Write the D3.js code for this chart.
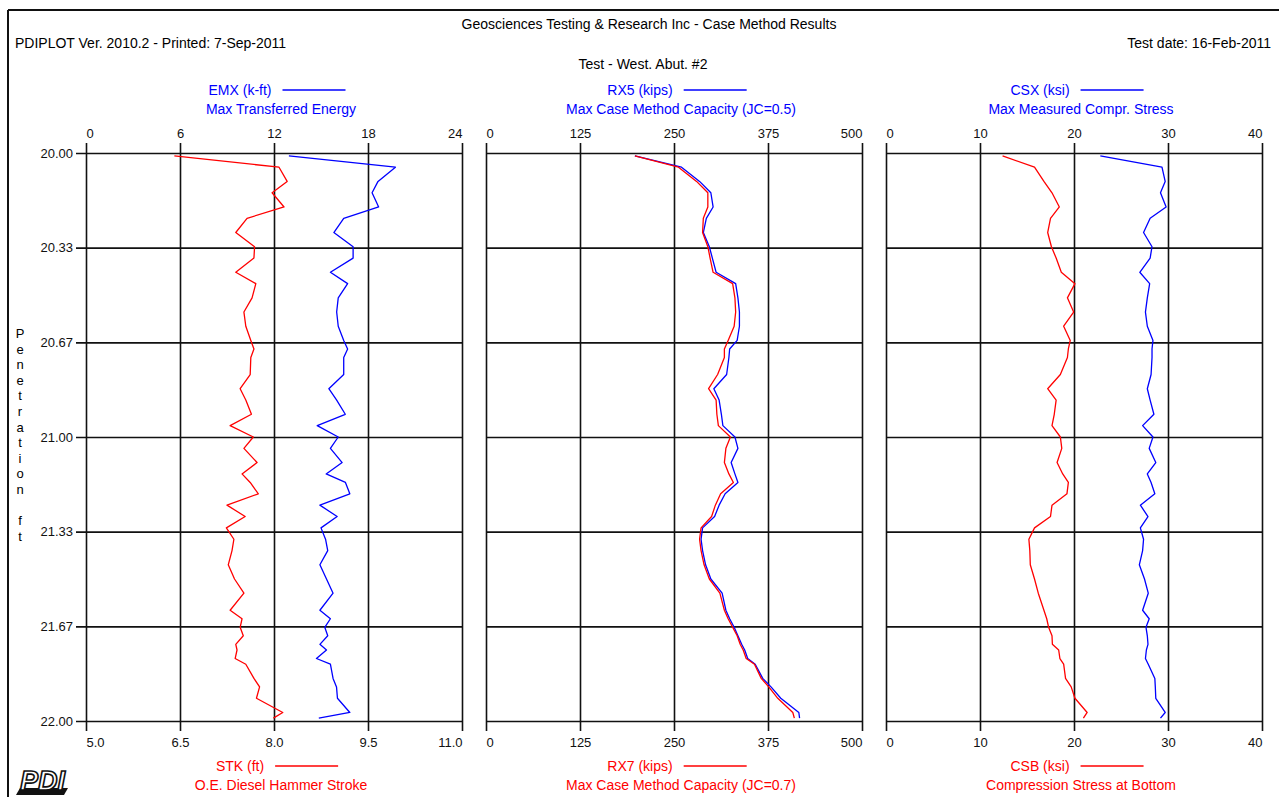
<!DOCTYPE html>
<html>
<head>
<meta charset="utf-8">
<script src="https://cdn.jsdelivr.net/npm/d3@7"></script>
<style>
  body { margin: 0; background: #fff; }
  text { font-family: "Liberation Sans", Arial, sans-serif; }
</style>
</head>
<body>
<svg id="chart" width="1279" height="797"></svg>
<script>
// penetration (ft) of each blow, shared by all three panels
const depth = [20.01, 20.05, 20.10, 20.14, 20.19, 20.23, 20.28, 20.33, 20.37, 20.42,
  20.46, 20.51, 20.56, 20.61, 20.66, 20.69, 20.72, 20.78, 20.83, 20.87,
  20.92, 20.96, 21.00, 21.04, 21.09, 21.13, 21.16, 21.20, 21.24, 21.28,
  21.32, 21.36, 21.40, 21.45, 21.50, 21.55, 21.61, 21.64, 21.67, 21.70,
  21.73, 21.75, 21.78, 21.80, 21.85, 21.88, 21.92, 21.97, 21.99];

// EMX (k-ft) - blue, panel 1
const emx = [12.95, 19.75, 18.64, 18.26, 18.68, 16.45, 15.82, 17.05, 17.05, 15.6,
  16.7, 16.1, 16.0, 16.1, 16.45, 16.7, 16.45, 16.45, 15.5, 16.0,
  16.55, 14.76, 16.1, 15.6, 16.35, 15.33, 16.56, 16.84, 14.93, 16.03,
  15.0, 15.29, 15.43, 14.93, 15.35, 15.77, 14.93, 15.6, 15.24, 15.43,
  14.93, 15.35, 14.71, 15.6, 15.77, 15.99, 16.05, 16.84, 14.86];

// STK (ft) - red, panel 1
const stk = [6.41, 8.08, 8.21, 7.97, 8.16, 7.57, 7.39, 7.69, 7.68, 7.39,
  7.71, 7.65, 7.52, 7.55, 7.63, 7.68, 7.63, 7.62, 7.46, 7.55,
  7.64, 7.30, 7.67, 7.52, 7.73, 7.49, 7.62, 7.75, 7.25, 7.54,
  7.24, 7.36, 7.33, 7.27, 7.37, 7.52, 7.30, 7.49, 7.46, 7.51,
  7.39, 7.41, 7.38, 7.55, 7.68, 7.77, 7.72, 8.14, 7.99];

// RX5 (kips) - blue, panel 2
const rx5 = [198, 260, 284, 299, 302, 293, 289, 297, 301, 306,
  332, 335, 337, 337, 334, 324, 323, 320, 303, 310,
  313, 315, 331, 335, 326, 331, 335, 318, 310, 304,
  288, 286, 288, 292, 299, 314, 319, 324, 330, 335,
  340, 344, 348, 358, 368, 379, 392, 416, 417];

// RX7 (kips) - red, panel 2
const rx7 = [198, 256, 280, 295, 295, 289, 288, 295, 298, 302,
  328, 331, 332, 330, 322, 317, 317, 308, 296, 306,
  307, 309, 325, 319, 317, 323, 329, 312, 305, 300,
  286, 284, 286, 290, 297, 311, 317, 322, 328, 334,
  338, 342, 346, 357, 366, 376, 388, 408, 410];

// CSX (ksi) - blue, panel 3
const csx = [22.8, 29.36, 29.7, 29.2, 29.8, 28.1, 27.4, 28.3, 28.1, 27.0,
  28.05, 27.8, 27.6, 27.8, 28.4, 28.3, 28.3, 28.2, 27.8, 28.1,
  28.5, 27.3, 28.4, 28.0, 28.7, 27.8, 28.2, 28.6, 27.06, 27.87,
  27.06, 27.4, 27.3, 26.95, 27.5, 27.9, 27.3, 28.0, 27.66, 27.8,
  27.87, 27.7, 27.6, 27.9, 28.6, 28.65, 28.7, 29.7, 29.2];

// CSB (ksi) - red, panel 3
const csb = [12.4, 15.8, 16.8, 17.66, 18.44, 17.5, 17.2, 17.6, 18.1, 18.65,
  20.1, 19.3, 19.96, 18.9, 19.6, 19.4, 19.3, 18.55, 17.2, 18.1,
  17.9, 17.66, 18.55, 18.7, 18.2, 18.8, 19.4, 19.25, 17.66, 17.5,
  15.8, 15.2, 15.3, 15.35, 15.8, 16.2, 16.8, 17.1, 17.3, 17.66,
  17.7, 18.37, 18.5, 18.9, 19.1, 19.7, 20.1, 21.4, 21.0];

const depthTicks = [20, 20 + 1 / 3, 20 + 2 / 3, 21, 21 + 1 / 3, 21 + 2 / 3, 22];
const emxTicks = [0, 6, 12, 18, 24];
const stkTicks = [5.0, 6.5, 8.0, 9.5, 11.0];
const rxTicks = [0, 125, 250, 375, 500];
const csTicks = [0, 10, 20, 30, 40];

const topNames = ['EMX (k-ft)', 'RX5 (kips)', 'CSX (ksi)'];
const topDescs = ['Max Transferred Energy', 'Max Case Method Capacity (JC=0.5)', 'Max Measured Compr. Stress'];
const botNames = ['STK (ft)', 'RX7 (kips)', 'CSB (ksi)'];
const botDescs = ['O.E. Diesel Hammer Stroke', 'Max Case Method Capacity (JC=0.7)', 'Compression Stress at Bottom'];

const BLUE = '#0000ff', RED = '#ff0000', INK = '#111';
const fs = 14;

const svg = d3.select('#chart');

// page frame (left + top)
svg.append('line').attr('x1', 8).attr('y1', 10).attr('x2', 1279).attr('y2', 10)
  .attr('stroke', INK).attr('stroke-width', 2);
svg.append('line').attr('x1', 8).attr('y1', 10).attr('x2', 8).attr('y2', 797)
  .attr('stroke', INK).attr('stroke-width', 2);

// header
svg.append('text').attr('x', 649).attr('y', 29).attr('text-anchor', 'middle')
  .style('font-size', fs + 'px').text('Geosciences Testing & Research Inc - Case Method Results');
svg.append('text').attr('x', 15).attr('y', 48)
  .style('font-size', fs + 'px').text('PDIPLOT Ver. 2010.2 - Printed: 7-Sep-2011');
svg.append('text').attr('x', 1271).attr('y', 48).attr('text-anchor', 'end')
  .style('font-size', fs + 'px').text('Test date: 16-Feb-2011');
svg.append('text').attr('x', 643).attr('y', 69).attr('text-anchor', 'middle')
  .style('font-size', fs + 'px').text('Test - West. Abut. #2');

// y axis title, one letter per row
let yTitle = 'Penetration ft'.split('');
svg.append('g').selectAll('text')
  .data(yTitle)
  .enter()
    .append('text')
    .attr('x', 20)
    .attr('y', (d, i) => 338 + i * 15.6)
    .attr('text-anchor', 'middle')
    .style('font-size', (fs - 1) + 'px')
    .text(d => d);

const y = d3.scaleLinear().domain([20, 22]).range([153, 721]);
const panelLeft = [86, 486, 886];
const panelW = 376;

const panels = [
  {top: emxTicks, bot: stkTicks, topFmt: d3.format('d'), botFmt: d3.format('.1f'), blue: emx, red: stk},
  {top: rxTicks, bot: rxTicks, topFmt: d3.format('d'), botFmt: d3.format('d'), blue: rx5, red: rx7},
  {top: csTicks, bot: csTicks, topFmt: d3.format('d'), botFmt: d3.format('d'), blue: csx, red: csb}
];

function alignEnds(sel) {
  let n = sel.size();
  sel.attr('text-anchor', (d, i) => i === 0 ? 'start' : (i === n - 1 ? 'end' : 'middle'));
}

panels.forEach((p, k) => {
  let x0 = panelLeft[k], x1 = x0 + panelW;
  let xTop = d3.scaleLinear().domain(d3.extent(p.top)).range([x0, x1]);
  let xBot = d3.scaleLinear().domain(d3.extent(p.bot)).range([x0, x1]);
  let g = svg.append('g').attr('class', 'panel');

  // vertical grid lines incl. 10px ticks above and below
  g.append('g')
    .attr('transform', `translate(0, ${y(22) + 10})`)
    .call(d3.axisTop(xTop).tickValues(p.top).tickSize(y(22) - y(20) + 20).tickFormat(''))
    .call(a => a.select('.domain').remove())
    .selectAll('line').attr('stroke', INK).attr('stroke-width', 1.6);

  // horizontal grid lines (first panel gets ticks + labels on the left)
  let left = k === 0 ? 10 : 0;
  let yAx = d3.axisLeft(y).tickValues(depthTicks).tickSize(-(panelW + left)).tickPadding(3)
    .tickFormat(k === 0 ? d3.format('.2f') : '');
  g.append('g')
    .attr('transform', `translate(${x0 - left}, 0)`)
    .call(yAx)
    .call(a => a.select('.domain').remove())
    .call(a => a.selectAll('line').attr('stroke', INK).attr('stroke-width', 1.6))
    .call(a => a.selectAll('text').style('font-size', (fs - 1) + 'px').attr('fill', INK)
      .style('font-family', '"Liberation Sans", Arial, sans-serif'));

  // top tick labels
  let topAx = g.append('g')
    .attr('transform', `translate(0, ${y(20)})`)
    .call(d3.axisTop(xTop).tickValues(p.top).tickSize(10).tickPadding(5).tickFormat(p.topFmt));
  topAx.select('.domain').remove();
  topAx.selectAll('line').remove();
  topAx.selectAll('text').style('font-size', (fs - 1) + 'px').attr('fill', INK)
    .style('font-family', '"Liberation Sans", Arial, sans-serif').call(alignEnds);

  // bottom tick labels
  let botAx = g.append('g')
    .attr('transform', `translate(0, ${y(22)})`)
    .call(d3.axisBottom(xBot).tickValues(p.bot).tickSize(10).tickPadding(7).tickFormat(p.botFmt));
  botAx.select('.domain').remove();
  botAx.selectAll('line').remove();
  botAx.selectAll('text').style('font-size', (fs - 1) + 'px').attr('fill', INK)
    .style('font-family', '"Liberation Sans", Arial, sans-serif').call(alignEnds);

  // series lines
  let rows = depth.map((d, i) => ({d: d, b: p.blue[i], r: p.red[i]}));
  let blueLine = d3.line().x(d => xTop(d.b)).y(d => y(d.d));
  let redLine = d3.line().x(d => xBot(d.r)).y(d => y(d.d));

  g.append('path').datum(rows)
    .attr('d', blueLine).attr('fill', 'none')
    .attr('stroke', BLUE).attr('stroke-width', 1.3).attr('stroke-linejoin', 'round');
  g.append('path').datum(rows)
    .attr('d', redLine).attr('fill', 'none')
    .attr('stroke', RED).attr('stroke-width', 1.3).attr('stroke-linejoin', 'round');

  // legends
  let cx = x0 + panelW / 2;
  drawLegend(cx, 95, topNames[k], topDescs[k], BLUE);
  drawLegend(cx, 771, botNames[k], botDescs[k], RED);
});

function drawLegend(cx, yy, name, desc, color) {
  let lg = svg.append('g');
  let t = lg.append('text').attr('y', yy).style('font-size', fs + 'px')
    .attr('fill', color).text(name);
  let w = t.node().getComputedTextLength();
  let total = w + 11 + 63;
  let start = cx + 3 - total / 2;
  t.attr('x', start);
  lg.append('line')
    .attr('x1', start + w + 11).attr('x2', start + w + 11 + 63)
    .attr('y1', yy - 5).attr('y2', yy - 5)
    .attr('stroke', color).attr('stroke-width', 1.5);
  lg.append('text').attr('x', cx + 7).attr('y', yy + 19)
    .attr('text-anchor', 'middle').style('font-size', fs + 'px')
    .attr('fill', color).text(desc);
}

// PDI logo
let logo = svg.append('g').attr('transform', 'translate(16, 792)');
logo.append('path')
  .attr('d', 'M4,-4 L52,-4 L48,3 L0,3 Z')
  .attr('fill', INK);
logo.append('text')
  .attr('x', 4).attr('y', -2)
  .style('font-size', '27px').style('font-weight', 'bold').style('font-style', 'italic')
  .attr('fill', '#fff').attr('stroke', INK).attr('stroke-width', 1.6)
  .text('PDI');
</script>
</body>
</html>
